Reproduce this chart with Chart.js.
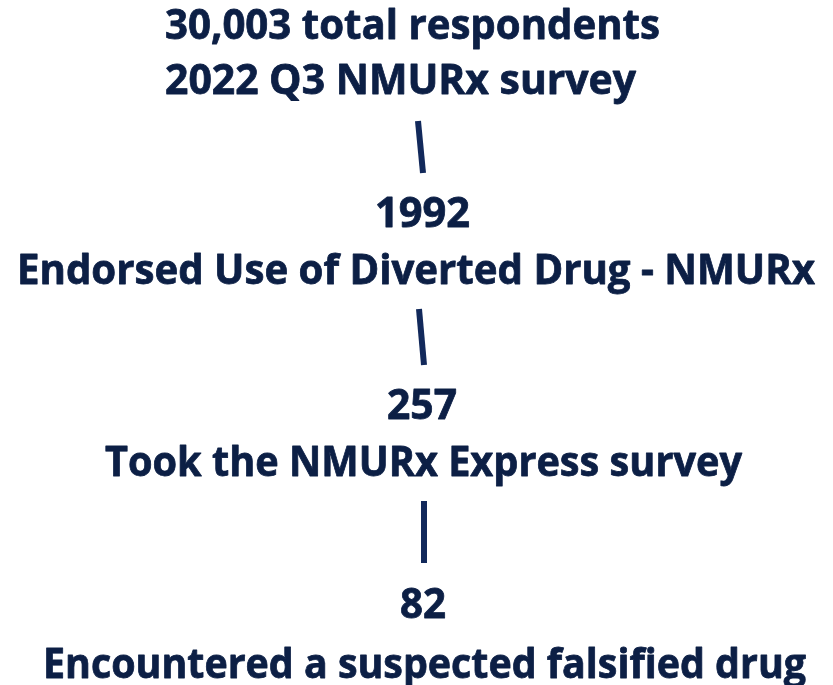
<!DOCTYPE html>
<html>
<head>
<meta charset="utf-8">
<script src="https://cdn.jsdelivr.net/npm/chart.js@4"></script>
<style>
  html, body { margin: 0; padding: 0; background: #ffffff; }
</style>
</head>
<body>
<canvas id="canvas" width="833" height="685"></canvas>
<script>
// funnel stages, top to bottom
var stageCounts = ['30,003', '1992', '257', '82'];
var stageLabels = [
	'total respondents',
	'Endorsed Use of Diverted Drug - NMURx',
	'Took the NMURx Express survey',
	'Encountered a suspected falsified drug'
];
var subTitle = '2022 Q3 NMURx survey';

// layout (page pixels): text rows as [text, left, right, baseline]
var rows = [
	[stageCounts[0] + ' ' + stageLabels[0], 165, 660, 39],
	[subTitle, 165, 636, 94],
	[stageCounts[1], 375, 470, 227],
	[stageLabels[1], 17, 815, 284],
	[stageCounts[2], 387, 457, 419],
	[stageLabels[2], 105, 742, 476],
	[stageCounts[3], 400, 446, 618],
	[stageLabels[3], 43, 806, 678]
];
// connector bars between stages: [xTop, yTop, xBottom, yBottom]
var connectors = [
	[418, 121, 423, 173],
	[419, 309, 424, 365],
	[424, 501, 424, 563]
];

var textColor = '#0c1f45';
var lineColor = '#12295b';

var datasets = connectors.map(function(c) {
	return {
		data: [{x: c[0], y: c[1]}, {x: c[2], y: c[3]}],
		showLine: true,
		borderColor: lineColor,
		borderWidth: 6,
		borderCapStyle: 'butt',
		pointRadius: 0,
		fill: false
	};
});

var textPlugin = {
	id: 'flowText',
	afterDatasetsDraw: function(chart) {
		var ctx = chart.ctx;
		var xs = chart.scales.x, ys = chart.scales.y;
		ctx.save();
		ctx.fillStyle = textColor;
		ctx.strokeStyle = textColor;
		ctx.lineWidth = 0.8;
		ctx.lineJoin = 'round';
		ctx.font = '700 42px "Open Sans"';
		ctx.textBaseline = 'alphabetic';
		ctx.textAlign = 'left';
		rows.forEach(function(r) {
			var left = xs.getPixelForValue(r[1]);
			var right = xs.getPixelForValue(r[2]);
			var base = ys.getPixelForValue(r[3]);
			var w = ctx.measureText(r[0]).width;
			var k = (right - left) / w;
			ctx.save();
			ctx.translate(left, base);
			ctx.scale(k, 1);
			ctx.fillText(r[0], 0, 0);
			ctx.strokeText(r[0], 0, 0);
			ctx.restore();
		});
		ctx.restore();
	}
};

new Chart(document.getElementById('canvas').getContext('2d'), {
	type: 'scatter',
	data: { datasets: datasets },
	options: {
		responsive: false,
		animation: false,
		devicePixelRatio: 1,
		layout: { padding: 0 },
		plugins: { legend: { display: false }, tooltip: { enabled: false } },
		scales: {
			x: { type: 'linear', min: 0, max: 833, display: false },
			y: { type: 'linear', min: 0, max: 685, reverse: true, display: false }
		}
	},
	plugins: [textPlugin]
});
</script>
</body>
</html>
